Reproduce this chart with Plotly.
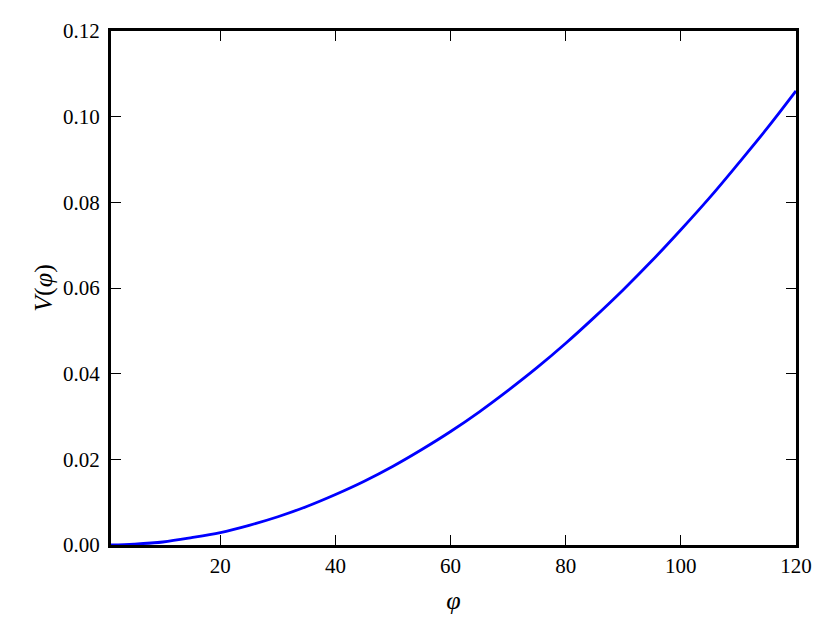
import plotly.graph_objects as go

phi = [1, 5, 10, 15, 20, 25, 30, 35, 40, 45, 50, 55, 60, 65, 70, 75, 80, 85, 90, 95, 100, 105, 110, 115, 120]
V = [0.0000, 0.0002, 0.0007, 0.0017, 0.0029, 0.0046, 0.0066, 0.0090, 0.0118, 0.0149,
     0.0184, 0.0223, 0.0265, 0.0311, 0.0361, 0.0414, 0.0471, 0.0532, 0.0596, 0.0664,
     0.0736, 0.0811, 0.0891, 0.0973, 0.1060]

xticks = [20, 40, 60, 80, 100, 120]
yticks = [0.00, 0.02, 0.04, 0.06, 0.08, 0.10, 0.12]

fig = go.Figure()
fig.add_trace(go.Scatter(x=phi, y=V, mode="lines", line=dict(color="#0000ff", width=2.8, shape="spline"),
                         showlegend=False))

font = "Liberation Serif, DejaVu Serif, serif"
fig.update_layout(
    width=822, height=615,
    margin=dict(l=103, r=34, t=23, b=78),
    paper_bgcolor="white", plot_bgcolor="white",
    font=dict(family=font, size=21, color="black"),
    xaxis=dict(range=[1, 120], tickvals=xticks, ticks="inside", ticklen=10, tickwidth=1,
               tickcolor="black", showline=True, linewidth=3, linecolor="black", mirror="allticks",
               showgrid=False, zeroline=False, automargin=False,
               title=dict(text="<i>φ</i>", font=dict(size=26), standoff=14)),
    yaxis=dict(range=[0, 0.12], tickvals=yticks, tickformat=".2f", ticks="inside", ticklen=10, tickwidth=1,
               tickcolor="black", showline=True, linewidth=3, linecolor="black", mirror="allticks",
               showgrid=False, zeroline=False, automargin=False, ticklabelstandoff=4,
               title=dict(text="<i>V</i>(<i>φ</i>)", font=dict(size=26), standoff=3)),
)
fig.write_html("out.html")
